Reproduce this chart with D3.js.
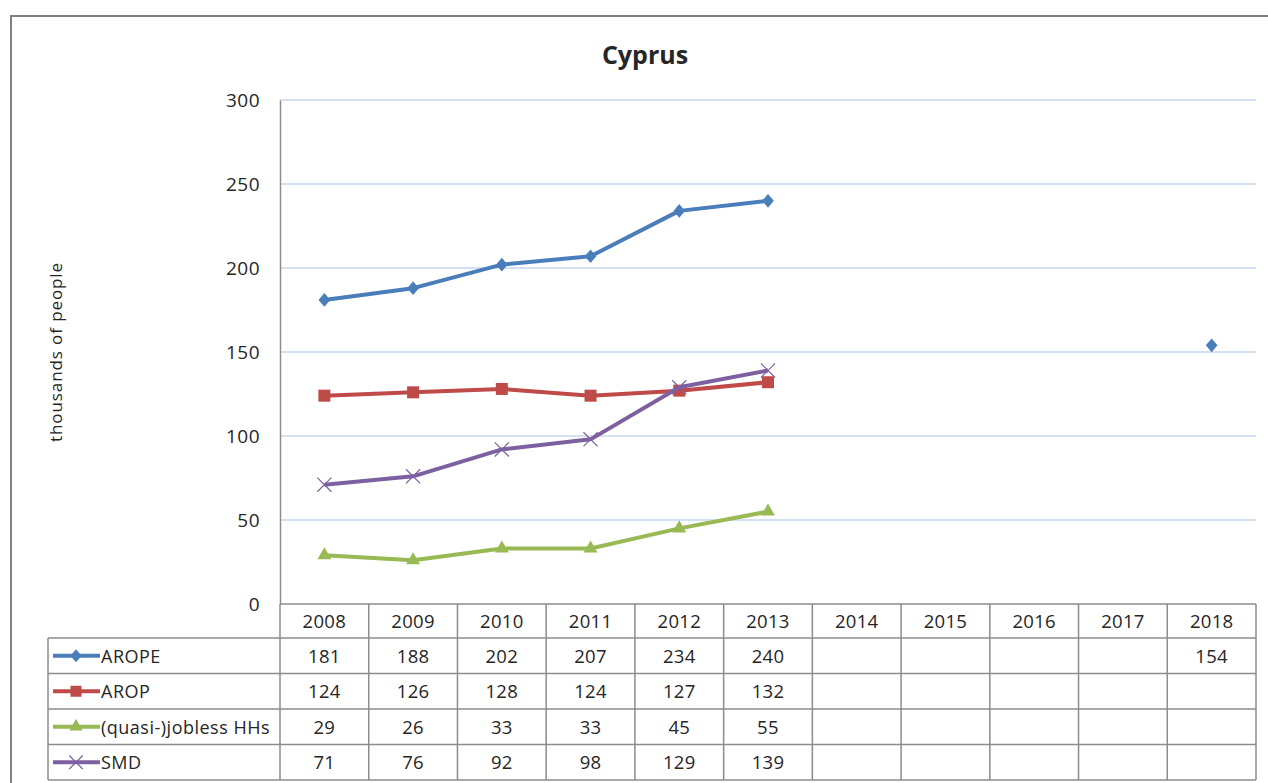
<!DOCTYPE html>
<html>
<head>
<meta charset="utf-8">
<script src="https://cdn.jsdelivr.net/npm/d3@7"></script>
<style>
  body { margin: 0; background: #fff; }
  text { font-family: "Open Sans", sans-serif; fill: #262626; }
</style>
</head>
<body>
<div id="chart"></div>
<script>
// data
const years = ["2008", "2009", "2010", "2011", "2012", "2013", "2014", "2015", "2016", "2017", "2018"];
const seriesNames = ["AROPE", "AROP", "(quasi-)jobless HHs", "SMD"];
const arope  = [181, 188, 202, 207, 234, 240, null, null, null, null, 154];
const arop   = [124, 126, 128, 124, 127, 132, null, null, null, null, null];
const jobless = [29, 26, 33, 33, 45, 55, null, null, null, null, null];
const smd    = [71, 76, 92, 98, 129, 139, null, null, null, null, null];
const yTicks = [0, 50, 100, 150, 200, 250, 300];

const colors = ["#4a7ebb", "#be4b48", "#98b954", "#7d60a0"];
const markers = ["diamond", "square", "triangle", "cross"];
const series = [arope, arop, jobless, smd].map((vals, i) => ({
  name: seriesNames[i], values: vals, color: colors[i], marker: markers[i]
}));

const W = 1268, H = 783;
const plot = { left: 280, right: 1256, top: 100, bottom: 604 };
const legendLeft = 48;
const headerH = 34, rowH = 35.5;

const svg = d3.select("#chart").append("svg")
  .attr("width", W).attr("height", H);

// outer frame
svg.append("rect")
  .attr("x", 11).attr("y", 16)
  .attr("width", W + 20).attr("height", H + 20)
  .attr("fill", "#fff").attr("stroke", "#808080").attr("stroke-width", 2);

const xBand = d3.scaleBand().domain(years).range([plot.left, plot.right]);
const xc = d => xBand(d) + xBand.bandwidth() / 2;

const y = d3.scaleLinear().domain([0, 300]).range([plot.bottom, plot.top]);

// gridlines
svg.append("g")
  .selectAll("line")
  .data(yTicks.filter(d => d > 0))
  .join("line")
    .attr("x1", plot.left).attr("x2", plot.right)
    .attr("y1", d => y(d)).attr("y2", d => y(d))
    .attr("stroke", "#a9c4e4").attr("stroke-width", 1.2);

// y axis
const yAxis = svg.append("g")
  .attr("transform", `translate(${plot.left},0)`)
  .call(d3.axisLeft(y).tickValues(yTicks).tickSize(0).tickPadding(20));
yAxis.select(".domain").attr("stroke", "#8c8c8c").attr("stroke-width", 1.5);
yAxis.selectAll("text")
  .style("font-family", "Open Sans, sans-serif")
  .style("font-size", "19px").style("letter-spacing", "0.5px")
  .attr("fill", "#262626");

// axis title
svg.append("text")
  .attr("transform", `translate(62,${(plot.top + plot.bottom) / 2}) rotate(-90)`)
  .attr("text-anchor", "middle")
  .style("font-size", "17px").style("letter-spacing", "0.9px")
  .text("thousands of people");

// chart title
svg.append("text")
  .attr("x", 645).attr("y", 64)
  .attr("text-anchor", "middle")
  .style("font-size", "25px").style("font-weight", "bold")
  .text("Cyprus");

// marker drawing
function drawMarker(g, type, color, s) {
  if (type === "diamond") {
    g.append("path").attr("d", d3.symbol().type(d3.symbolDiamond2).size(s * 10)())
      .attr("transform", "scale(0.85,1)").attr("fill", color);
  } else if (type === "square") {
    g.append("rect").attr("x", -s / 2).attr("y", -s / 2)
      .attr("width", s).attr("height", s).attr("fill", color);
  } else if (type === "triangle") {
    g.append("path").attr("d", d3.symbol().type(d3.symbolTriangle).size(s * 7)())
      .attr("fill", color);
  } else {
    g.append("path").attr("d", d3.symbol().type(d3.symbolX).size(s * 11)())
      .attr("fill", "none").attr("stroke", color).attr("stroke-width", 1.2);
  }
}

const line = d3.line()
  .defined(d => d.v != null)
  .x(d => xc(d.year))
  .y(d => y(d.v));

series.forEach(s => {
  const pts = years.map((yr, i) => ({ year: yr, v: s.values[i] }));
  svg.append("path")
    .datum(pts)
    .attr("fill", "none")
    .attr("stroke", s.color)
    .attr("stroke-width", 4)
    .attr("stroke-linejoin", "round")
    .attr("d", line);
  pts.filter(d => d.v != null).forEach(d => {
    const g = svg.append("g").attr("transform", `translate(${xc(d.year)},${y(d.v)})`);
    drawMarker(g, s.marker, s.color, 12);
  });
});

// data table
const table = svg.append("g");
const tableTop = plot.bottom;
const rowY = i => tableTop + headerH + i * rowH;
const tableBottom = rowY(series.length);
const gridStroke = "#8c8c8c";

table.append("line")
  .attr("x1", plot.left).attr("x2", plot.right)
  .attr("y1", tableTop).attr("y2", tableTop)
  .attr("stroke", gridStroke).attr("stroke-width", 1.5);
// horizontal row lines
table.selectAll(".hrow")
  .data(d3.range(series.length + 1))
  .join("line")
    .attr("x1", legendLeft).attr("x2", plot.right)
    .attr("y1", d => rowY(d)).attr("y2", d => rowY(d))
    .attr("stroke", gridStroke).attr("stroke-width", 1.5);
// vertical lines
table.selectAll(".vcol")
  .data(years.map(d => xBand(d)).concat([plot.right]))
  .join("line")
    .attr("x1", d => d).attr("x2", d => d)
    .attr("y1", tableTop).attr("y2", tableBottom)
    .attr("stroke", gridStroke).attr("stroke-width", 1.5);
table.append("line")
  .attr("x1", legendLeft).attr("x2", legendLeft)
  .attr("y1", rowY(0)).attr("y2", tableBottom)
  .attr("stroke", gridStroke).attr("stroke-width", 1.5);

// header labels
table.selectAll(".yr")
  .data(years)
  .join("text")
    .attr("x", d => xc(d))
    .attr("y", tableTop + headerH / 2 + 7)
    .attr("text-anchor", "middle")
    .style("font-size", "18.5px").style("letter-spacing", "0.3px")
    .text(d => d);

// rows
series.forEach((s, r) => {
  const cy = rowY(r) + rowH / 2;
  const key = table.append("g").attr("transform", `translate(0,${cy})`);
  key.append("line").attr("x1", 53).attr("x2", 100)
    .attr("stroke", s.color).attr("stroke-width", 4);
  drawMarker(key.append("g").attr("transform", "translate(76,0)"), s.marker, s.color, 11);
  key.append("text")
    .attr("x", 101).attr("y", 7)
    .style("font-size", "18px").style("letter-spacing", "0.5px")
    .text(s.name);

  table.selectAll(`.val-${r}`)
    .data(years.map((yr, i) => ({ year: yr, v: s.values[i] })).filter(d => d.v != null))
    .join("text")
      .attr("x", d => xc(d.year))
      .attr("y", cy + 7)
      .attr("text-anchor", "middle")
      .style("font-size", "18.5px").style("letter-spacing", "0.3px")
      .text(d => d.v);
});
</script>
</body>
</html>
